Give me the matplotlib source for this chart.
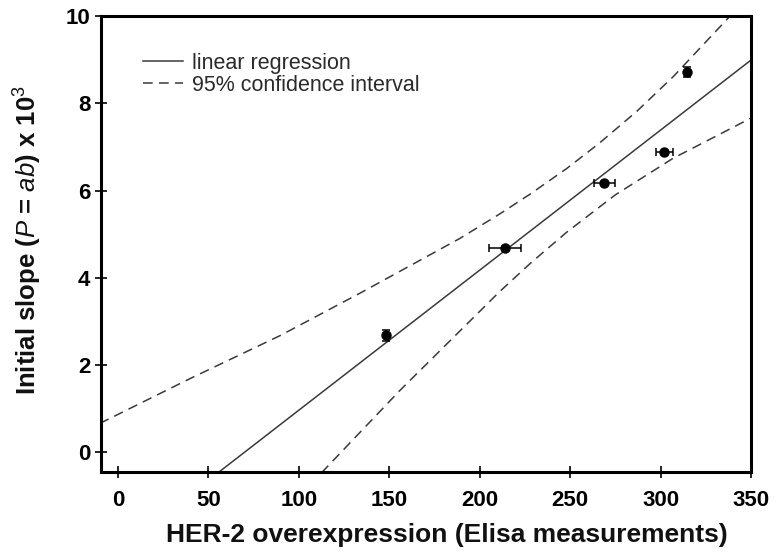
import matplotlib
matplotlib.use("Agg")
import matplotlib.pyplot as plt

# data points (HER-2 Elisa vs initial slope x 10^3)
her2 = [148, 214, 269, 302, 314.5]
slope = [2.68, 4.68, 6.17, 6.88, 8.72]
her2_err = [0, 9.1, 5.8, 4.7, 0]
slope_err = [0.12, 0, 0, 0, 0.12]

# regression line
reg_x = [55.7, 350]
reg_y = [-0.46, 8.99]

# 95% confidence band
upper_x = [-10, 40, 90, 134, 189, 211, 228, 248, 266, 287, 307, 338]
upper_y = [0.66, 1.69, 2.68, 3.65, 4.90, 5.46, 5.92, 6.50, 7.08, 7.82, 8.61, 9.98]
lower_x = [112.6, 156, 211, 228, 248, 275, 307, 350]
lower_y = [-0.47, 1.42, 3.68, 4.33, 5.04, 5.90, 6.74, 7.66]

xticks = [0, 50, 100, 150, 200, 250, 300, 350]
yticks = [0, 2, 4, 6, 8, 10]

plt.rcParams['font.family'] = ['Liberation Sans', 'DejaVu Sans']
plt.rcParams['mathtext.fontset'] = 'custom'
plt.rcParams['mathtext.it'] = 'Liberation Sans:italic'
plt.rcParams['mathtext.rm'] = 'Liberation Sans'
plt.rcParams['lines.scale_dashes'] = False

fig = plt.figure(figsize=(7.75, 5.53), dpi=100)
ax = fig.add_axes([0.130, 0.146, 0.839, 0.825])

line_col = '#3a3a3a'
ax.plot(reg_x, reg_y, color=line_col, lw=1.1, label='linear regression')
ax.plot(upper_x, upper_y, color=line_col, lw=1.1, dashes=(7, 4.5),
        label='95% confidence interval')
ax.plot(lower_x, lower_y, color=line_col, lw=1.1, dashes=(7, 4.5))

ax.errorbar(her2, slope, xerr=her2_err, yerr=slope_err, fmt='o', color='black',
            ms=6.5, elinewidth=1.1, capsize=3, capthick=1.1, zorder=5)

ax.set_xlim(-9.5, 350)
ax.set_ylim(-0.46, 10)
ax.set_xticks(xticks)
ax.set_yticks(yticks)

tick_font = {'weight': 'bold', 'size': 16}
ax.set_xticklabels([str(t) for t in xticks], fontdict=tick_font)
ax.set_yticklabels([str(t) for t in yticks], fontdict=tick_font)
ax.tick_params(axis='both', direction='inout', length=9, width=1.2, color='black')
ax.tick_params(axis='x', pad=8)
ax.tick_params(axis='y', pad=3)
for sp in ax.spines.values():
    sp.set_linewidth(2.2)
    sp.set_color('black')

ax.set_xlabel('HER-2 overexpression (Elisa measurements)', fontsize=19,
              fontweight='bold', color='#111111')
ax.xaxis.set_label_coords(0.533, -0.112)
ax.set_ylabel(r'Initial slope ($P$ = $ab$) x 10$^3$', fontsize=18.5,
              fontweight='bold', color='#111111')
ax.yaxis.set_label_coords(-0.087, 0.509)

leg = ax.legend(loc='upper left', bbox_to_anchor=(0.0646, 0.92), frameon=False,
                fontsize=15.5, handlelength=1.86, handletextpad=0.42,
                labelspacing=0.05, borderpad=0, borderaxespad=0)
for t in leg.get_texts():
    t.set_color('#2a2a2a')

fig.savefig('out.png', dpi=100)
